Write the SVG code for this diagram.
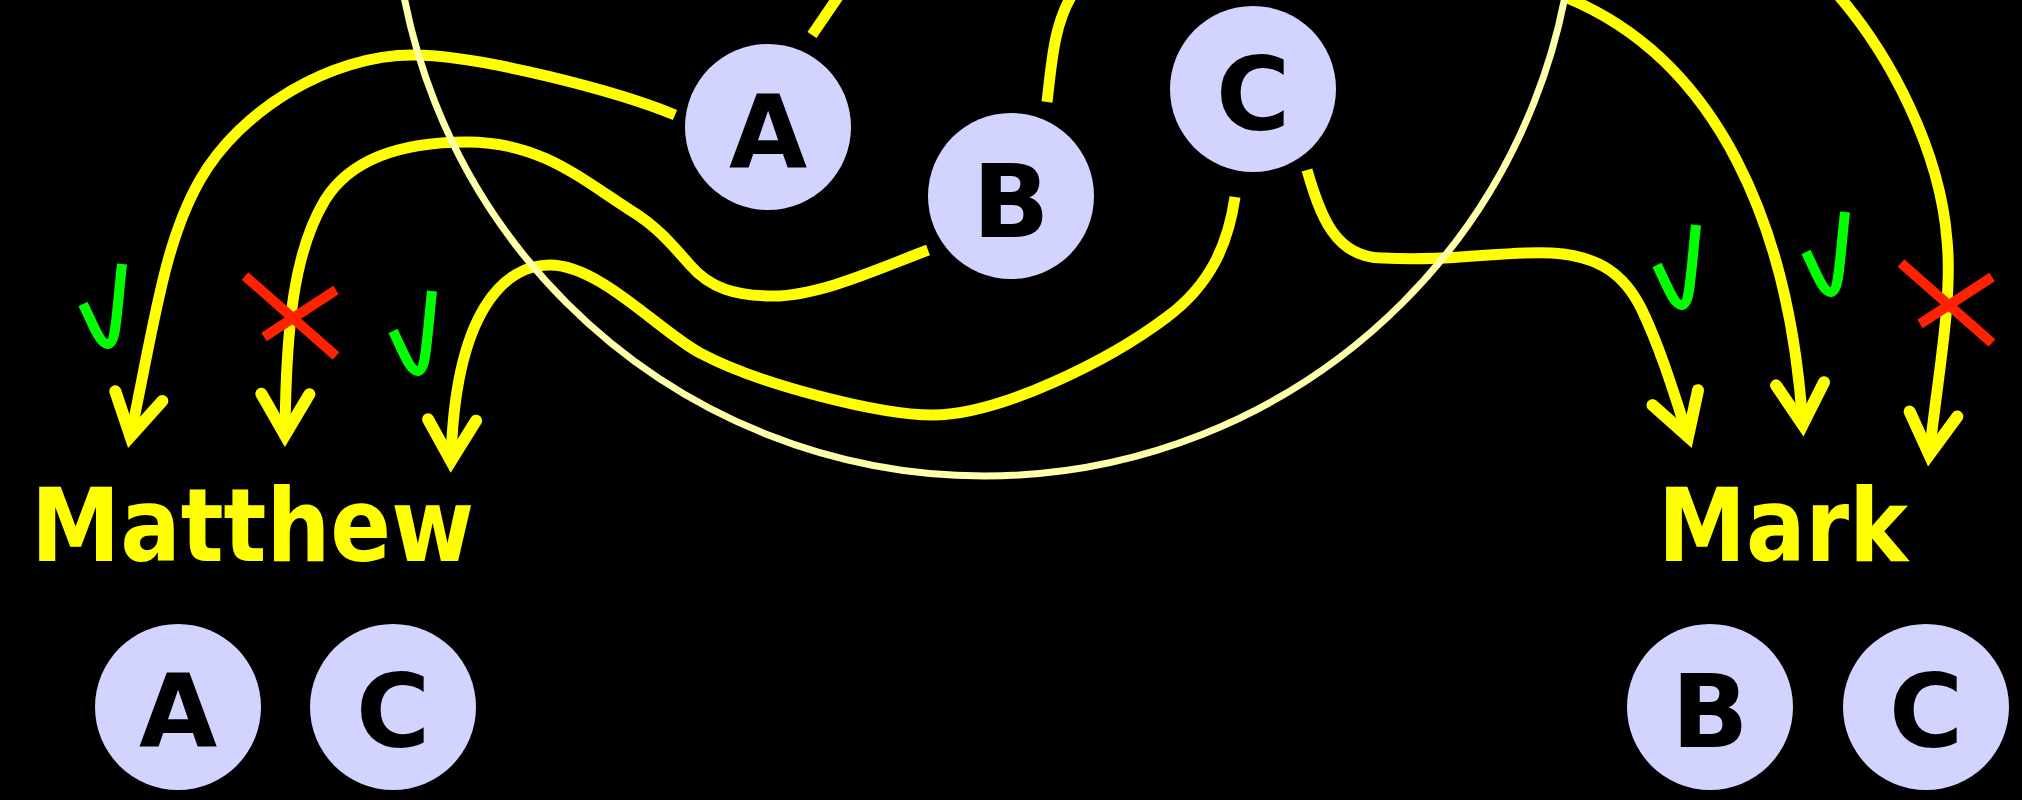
<svg xmlns="http://www.w3.org/2000/svg" xmlns:xlink="http://www.w3.org/1999/xlink" width="2022" height="800" viewBox="0 0 2022 800">
<style>
.bg{fill:#000}
.node{fill:#d3d3ff}
.ltr{font-family:"DejaVu Sans",sans-serif;font-weight:bold;font-size:101px;fill:#000;text-anchor:middle}
.ttl{font-family:"DejaVu Sans",sans-serif;font-weight:bold;font-size:101px;fill:#ffff00;text-anchor:middle}
.edge{fill:none;stroke:#ffff00;stroke-width:11}
.arr{marker-end:url(#ah)}
.ring{fill:none;stroke:#ffffaa;stroke-width:7}
.ok{fill:none;stroke:#00ff00;stroke-width:10}
.no{fill:none;stroke:#ff2200;stroke-width:10}
</style>
<defs>
<marker id="ah" markerUnits="userSpaceOnUse" orient="auto" refX="0" refY="0" markerWidth="120" markerHeight="120" viewBox="-60 -60 120 120" overflow="visible">
<path d="M-41,-24 L0,0 L-41,24" fill="none" stroke="#ffff00" stroke-width="12" stroke-linecap="round" stroke-linejoin="miter" stroke-miterlimit="10"/>
</marker>
<path id="check" class="ok" d="M83,304 C92,322 100,345 108,344 C116,343 116,320 122,264"/>
<g id="cross"><path class="no" d="M245,276 L336,356"/><path class="no" d="M264,337 L336,290"/></g>
</defs>
<rect class="bg" x="0" y="0" width="2022" height="800"/>
<g id="connectors">
<path class="edge arr" d="M675,115 C620,92 480,55 413,55 C330,55 240,110 200,180 C165,241 155,318 130.5,436.3"/>
<path class="edge arr" d="M928,250 C880,268 820,296 773,296 C735,296 710,288 690,265 C670,242 655,225 630,210 C580,178 540,142 467,142 C400,142 350,160 325,200 C295,250 286,320 285,435"/>
<path class="edge arr" d="M1235,197 C1228,245 1210,285 1167,317 C1110,360 1000,415 933,415 C880,415 760,385 700,353 C660,332 600,265 550,265 C505,265 455,310 451,461"/>
<path class="edge arr" d="M1307,170 C1320,215 1335,258 1383,258 C1450,262 1510,250 1552,253 C1600,256 1625,275 1642,310 C1662,352 1676,400 1688,436.6"/>
<path class="edge arr" d="M1565,-3 C1720,60 1790,230 1802.7,424.7"/>
<path class="edge arr" d="M1838,-5 C1890,55 1940,150 1947,240 C1953,300 1937,380 1929.3,454.8"/>
<path class="edge" d="M812,35 L838,-3"/>
<path class="edge" d="M1047,102 C1052,60 1054,25 1072,-5"/>
</g>
<g id="outline">
<circle class="ring" cx="984.5" cy="-115" r="591"/>
</g>
<g id="marks">
<use xlink:href="#check"/>
<use xlink:href="#check" transform="translate(310,27)"/>
<use xlink:href="#check" transform="translate(1574,-39)"/>
<use xlink:href="#check" transform="translate(1723,-52)"/>
<use xlink:href="#cross"/>
<use xlink:href="#cross" transform="translate(1656,-13)"/>
</g>
<g id="node-A"><circle class="node" cx="768" cy="127" r="83"/><text class="ltr" x="768" y="168">A</text></g>
<g id="node-B"><circle class="node" cx="1011" cy="196" r="83"/><text class="ltr" x="1011" y="237">B</text></g>
<g id="node-C"><circle class="node" cx="1253" cy="89" r="83"/><text class="ltr" x="1253" y="130">C</text></g>
<g id="label-matthew"><text class="ttl" x="252.5" y="561" textLength="443" lengthAdjust="spacingAndGlyphs">Matthew</text></g>
<g id="label-mark"><text class="ttl" x="1783" y="561" textLength="250" lengthAdjust="spacingAndGlyphs">Mark</text></g>
<g id="matthew-A"><circle class="node" cx="178" cy="707" r="83"/><text class="ltr" x="178" y="747">A</text></g>
<g id="matthew-C"><circle class="node" cx="393" cy="707" r="83"/><text class="ltr" x="393" y="747">C</text></g>
<g id="mark-B"><circle class="node" cx="1710" cy="707" r="83"/><text class="ltr" x="1710" y="747">B</text></g>
<g id="mark-C"><circle class="node" cx="1926" cy="707" r="83"/><text class="ltr" x="1926" y="747">C</text></g>
</svg>
